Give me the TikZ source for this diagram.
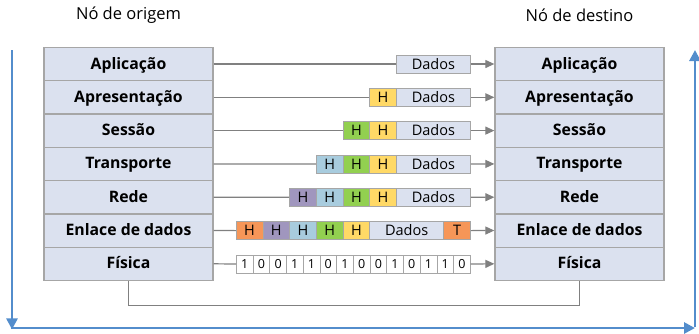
\documentclass[tikz,border=0pt]{standalone}
\usepackage{fontspec}
\setmainfont{Open Sans}
\usetikzlibrary{arrows.meta}
\definecolor{stackfill}{RGB}{219,225,239}
\definecolor{boxline}{RGB}{166,166,166}
\definecolor{conn}{RGB}{128,128,128}
\definecolor{hyel}{RGB}{255,217,102}
\definecolor{hgrn}{RGB}{146,208,80}
\definecolor{hblu}{RGB}{168,204,222}
\definecolor{hpur}{RGB}{160,150,190}
\definecolor{hora}{RGB}{246,150,88}
\definecolor{flow}{RGB}{83,141,204}
\tikzset{
  layer/.style={draw=boxline, fill=stackfill, line width=1.3pt, minimum width=169pt, minimum height=33.3pt, inner sep=0pt, text height=12pt, text depth=2pt, font=\fontsize{15.8}{18}\selectfont\bfseries},
  pkt/.style={draw=boxline, line width=0.8pt, minimum height=18pt, inner sep=0pt, text height=11.5pt, text depth=1.5pt, anchor=west, font=\fontsize{14.5}{16}\selectfont},
  hbox/.style={pkt, minimum width=26.7pt},
  dbox/.style={pkt, fill=stackfill, minimum width=74pt},
  bit/.style={draw=boxline, fill=white, line width=0.6pt, minimum height=17.6pt, minimum width=16.71pt, inner sep=0pt, text height=9.5pt, text depth=0.5pt, anchor=west, font=\fontsize{12.5}{14}\selectfont},
  link/.style={draw=conn, line width=1.2pt},
  linkarr/.style={link, -{Triangle[length=9pt,width=8pt]}},
  title/.style={font=\fontsize{16.5}{19}\selectfont},
  flowarr/.style={draw=flow, line width=2.8pt, -{Triangle[length=11pt,width=11pt]}}
}
\begin{document}
\begin{tikzpicture}[x=1pt,y=-1pt]
\useasboundingbox (0,0) rectangle (699,333);
\node[title] (t1) at (128.5,15) {Nó de origem};
\node[title] (t2) at (579.5,15) {Nó de destino};
% stacks
\foreach \n/\lab [count=\i from 0] in {a/Aplicação,b/Apresentação,c/Sessão,d/Transporte,e/Rede,f/Enlace de dados,g/Física}{
  \node[layer] (L\n) at (128.5,{64+33.3*\i}) {\lab};
  \node[layer] (R\n) at (579.5,{64+33.3*\i}) {\lab};
}
% row a
\node[dbox] (a0) at (396,64) {Dados};
% row b
\node[hbox, fill=hyel] (b1) at (369.3,97.3) {H};
\node[dbox] (b0) at (396,97.3) {Dados};
% row c
\node[hbox, fill=hgrn] (c2) at (342.6,130.6) {H};
\node[hbox, fill=hyel] (c1) at (369.3,130.6) {H};
\node[dbox] (c0) at (396,130.6) {Dados};
% row d
\node[hbox, fill=hblu] (d3) at (315.9,164) {H};
\node[hbox, fill=hgrn] (d2) at (342.6,164) {H};
\node[hbox, fill=hyel] (d1) at (369.3,164) {H};
\node[dbox] (d0) at (396,164) {Dados};
% row e
\node[hbox, fill=hpur] (e4) at (289.2,197.3) {H};
\node[hbox, fill=hblu] (e3) at (315.9,197.3) {H};
\node[hbox, fill=hgrn] (e2) at (342.6,197.3) {H};
\node[hbox, fill=hyel] (e1) at (369.3,197.3) {H};
\node[dbox] (e0) at (396,197.3) {Dados};
% row f
\node[hbox, fill=hora] (f5) at (235.8,230.6) {H};
\node[hbox, fill=hpur] (f4) at (262.5,230.6) {H};
\node[hbox, fill=hblu] (f3) at (289.2,230.6) {H};
\node[hbox, fill=hgrn] (f2) at (315.9,230.6) {H};
\node[hbox, fill=hyel] (f1) at (342.6,230.6) {H};
\node[dbox] (f0) at (369.3,230.6) {Dados};
\node[hbox, fill=hora] (fT) at (443.3,230.6) {T};
% row g bits
\foreach \b [count=\k from 0] in {1,0,0,1,1,0,1,0,0,1,0,1,1,0}{
  \node[bit] (g\k) at ({236+16.71*\k},264) {\b};
}
% connectors
\draw[link] (La.east) -- (a0.west);
\draw[linkarr] (a0.east) -- (Ra.west);
\draw[link] (Lb.east) -- (b1.west);
\draw[linkarr] (b0.east) -- (Rb.west);
\draw[link] (Lc.east) -- (c2.west);
\draw[linkarr] (c0.east) -- (Rc.west);
\draw[link] (Ld.east) -- (d3.west);
\draw[linkarr] (d0.east) -- (Rd.west);
\draw[link] (Le.east) -- (e4.west);
\draw[linkarr] (e0.east) -- (Re.west);
\draw[link] (Lf.east) -- (f5.west);
\draw[linkarr] (fT.east) -- (Rf.west);
\draw[link] (Lg.east) -- (g0.west);
\draw[linkarr] (g13.east) -- (Rg.west);
\draw[link] (Lg.south) -- ++(0,24) -| (Rg.south);
% flow arrows
\coordinate (p1) at (12,50);
\coordinate (p2) at (12,328);
\coordinate (p3) at (695,328);
\coordinate (p4) at (695,50);
\draw[flowarr] (p1) -- ([yshift=-1.4pt]p2);
\draw[flowarr] ([xshift=-1.4pt]p2) -- (p3);
\draw[flowarr] ([yshift=1.4pt]p3) -- (p4);
\end{tikzpicture}
\end{document}
